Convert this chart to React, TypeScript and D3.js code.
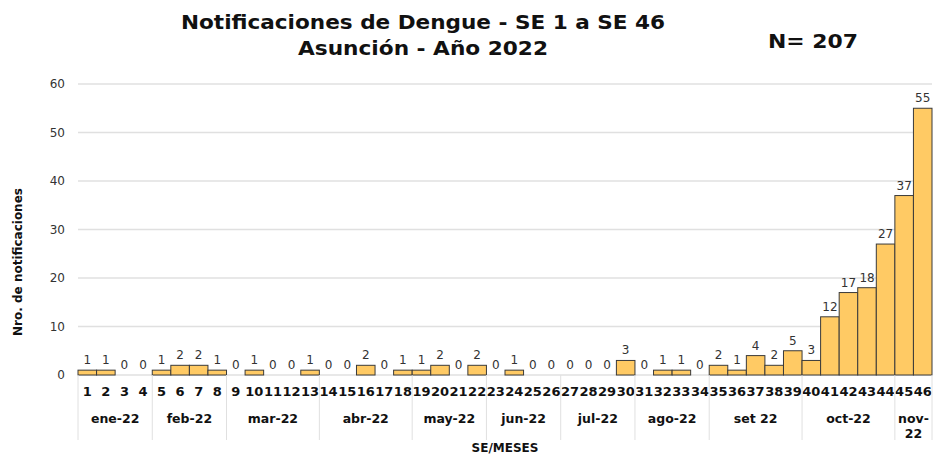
import React, { useEffect, useRef } from "react"
import * as d3 from "d3"

const weeks = d3.range(1, 47).map(String)
const cases = [1, 1, 0, 0, 1, 2, 2, 1, 0, 1, 0, 0, 1, 0, 0, 2, 0, 1, 1, 2, 0, 2, 0, 1, 0, 0, 0, 0, 0, 3, 0, 1, 1, 0, 2, 1, 4, 2, 5, 3, 12, 17, 18, 27, 37, 55]
const monthNames = ["ene-22", "feb-22", "mar-22", "abr-22", "may-22", "jun-22", "jul-22", "ago-22", "set 22", "oct-22", "nov-\n22"]
const monthWeeks = [4, 4, 5, 5, 4, 4, 4, 4, 5, 5, 2]
const yTicks = [0, 10, 20, 30, 40, 50, 60]

const FONT = "'DejaVu Sans', Verdana, sans-serif"

export default function App() {
  const ref = useRef<SVGSVGElement>(null)

  useEffect(() => {
    const svg = d3.select(ref.current)
    svg.selectAll("*").remove()
    const left = 78, right = 932, top = 84, bottom = 375

    const x = d3.scaleBand().domain(weeks).range([left, right]).padding(0)
    const y = d3.scaleLinear().domain([0, 60]).range([bottom, top])

    // grid
    svg.append("g").selectAll("line").data(yTicks).enter().append("line")
      .attr("x1", left).attr("x2", right)
      .attr("y1", d => y(d)).attr("y2", d => y(d))
      .attr("stroke", "#e0e0e0").attr("stroke-width", 1.5)

    svg.append("g").selectAll("text").data(yTicks).enter().append("text")
      .attr("x", 65).attr("y", d => y(d) + 4)
      .attr("text-anchor", "end")
      .attr("font-family", FONT).attr("font-size", 12).attr("fill", "#333")
      .text(d => d)

    // bars
    svg.append("g").selectAll("rect").data(cases).enter().append("rect")
      .attr("x", (d, i) => x(weeks[i])!)
      .attr("y", d => y(d))
      .attr("width", x.bandwidth())
      .attr("height", d => bottom - y(d))
      .attr("fill", "#ffca64")
      .attr("stroke", d => d > 0 ? "#3a3a3a" : "none")
      .attr("stroke-width", 1)

    svg.append("g").selectAll("text").data(cases).enter().append("text")
      .attr("x", (d, i) => x(weeks[i])! + x.bandwidth() / 2)
      .attr("y", d => y(d) - 6)
      .attr("text-anchor", "middle")
      .attr("font-family", FONT).attr("font-size", 12).attr("fill", "#333")
      .text(d => d)

    // week labels
    svg.append("g").selectAll("text").data(weeks).enter().append("text")
      .attr("x", d => x(d)! + x.bandwidth() / 2)
      .attr("y", 396)
      .attr("text-anchor", "middle")
      .attr("font-family", FONT).attr("font-size", 13).attr("font-weight", "bold").attr("fill", "#111")
      .text(d => d)

    // month groups
    let start = 0
    const bounds: number[] = [left]
    const months = monthNames.map((name, i) => {
      const s = start
      start += monthWeeks[i]
      const x0 = x(weeks[s])!
      const x1 = x(weeks[start - 1])! + x.bandwidth()
      bounds.push(x1)
      return { name, cx: (x0 + x1) / 2 }
    })

    svg.append("g").selectAll("line").data(bounds).enter().append("line")
      .attr("x1", d => d).attr("x2", d => d)
      .attr("y1", bottom).attr("y2", 440)
      .attr("stroke", "#e0e0e0").attr("stroke-width", 1)

    const mg = svg.append("g").selectAll("text").data(months).enter().append("text")
      .attr("x", d => d.cx).attr("y", 423)
      .attr("text-anchor", "middle")
      .attr("font-family", FONT).attr("font-size", 12.5).attr("font-weight", "bold").attr("fill", "#111")
    mg.each(function (d) {
      const parts = d.name.split("\n")
      parts.forEach((p, k) => {
        d3.select(this).append("tspan").attr("x", d.cx).attr("dy", k === 0 ? 0 : 15).text(p)
      })
    })

    svg.append("text")
      .attr("x", 505).attr("y", 452)
      .attr("text-anchor", "middle")
      .attr("font-family", FONT).attr("font-size", 12).attr("font-weight", "bold").attr("fill", "#111")
      .text("SE/MESES")

    svg.append("text")
      .attr("transform", "translate(22,262) rotate(-90)")
      .attr("text-anchor", "middle")
      .attr("font-family", FONT).attr("font-size", 12).attr("font-weight", "bold").attr("fill", "#111")
      .text("Nro. de notificaciones")

    // titles
    const tf = "Tahoma, 'DejaVu Sans Condensed', 'DejaVu Sans', sans-serif"
    svg.append("text").attr("x", 423).attr("y", 29).attr("text-anchor", "middle")
      .attr("font-family", tf).attr("font-size", 20).attr("font-weight", "bold").attr("fill", "#111")
      .attr("textLength", 484).attr("lengthAdjust", "spacingAndGlyphs")
      .text("Notificaciones de Dengue - SE 1 a SE 46")
    svg.append("text").attr("x", 423).attr("y", 55).attr("text-anchor", "middle")
      .attr("font-family", tf).attr("font-size", 20).attr("font-weight", "bold").attr("fill", "#111")
      .attr("textLength", 250).attr("lengthAdjust", "spacingAndGlyphs")
      .text("Asunción - Año 2022")
    svg.append("text").attr("x", 768).attr("y", 48)
      .attr("font-family", tf).attr("font-size", 20).attr("font-weight", "bold").attr("fill", "#111")
      .attr("textLength", 90).attr("lengthAdjust", "spacingAndGlyphs")
      .text("N= 207")
  }, [])

  return <svg ref={ref} width={933} height={454} style={{ position: "absolute", left: 0, top: 0, background: "#fff" }} />
}
